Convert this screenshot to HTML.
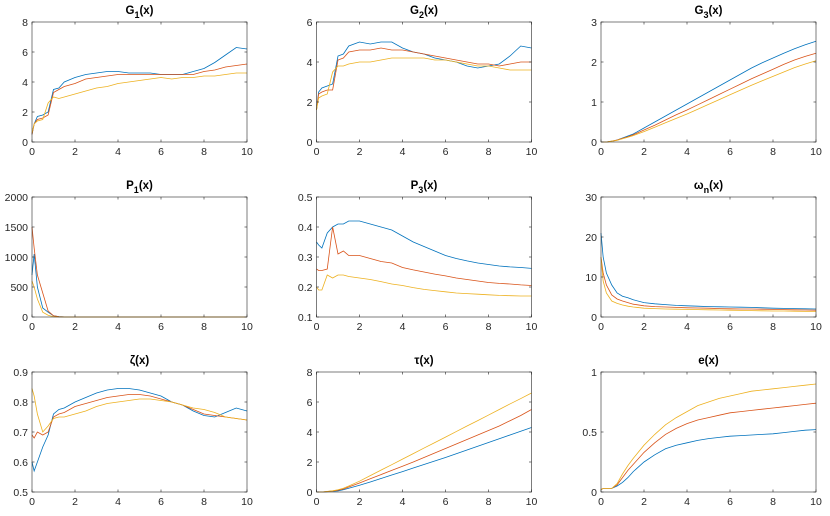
<!DOCTYPE html>
<html><head><meta charset="utf-8"><style>
html,body{margin:0;padding:0;background:#fff;}
svg{display:block;font-family:"Liberation Sans",sans-serif;}
</style></head><body>
<svg id="fig" width="830" height="516"></svg>
<script>
const xs=[0,0.1,0.25,0.5,0.75,1,1.25,1.5,2,2.5,3,3.5,4,4.5,5,5.5,6,6.5,7,7.5,8,8.5,9,9.5,10];
const g1Blue=[0.5,1.2,1.7,1.8,2.0,3.5,3.6,4.0,4.3,4.5,4.6,4.7,4.7,4.6,4.6,4.6,4.5,4.5,4.5,4.7,4.9,5.3,5.8,6.3,6.2];
const g1Red=[0.5,1.2,1.5,1.6,1.8,3.3,3.5,3.7,3.9,4.2,4.3,4.4,4.5,4.5,4.5,4.5,4.5,4.5,4.5,4.5,4.7,4.8,5.0,5.1,5.2];
const g1Yellow=[0.6,1.2,1.4,1.5,2.6,3.0,2.9,3.0,3.2,3.4,3.6,3.7,3.9,4.0,4.1,4.2,4.3,4.2,4.3,4.3,4.4,4.4,4.5,4.6,4.6];
const g2Blue=[1.6,2.5,2.7,2.8,2.9,4.3,4.4,4.8,5.0,4.9,5.0,5.0,4.7,4.5,4.4,4.2,4.1,4.0,3.8,3.7,3.8,3.9,4.3,4.8,4.7];
const g2Red=[1.6,2.4,2.5,2.6,2.6,4.1,4.2,4.5,4.6,4.6,4.7,4.6,4.6,4.5,4.4,4.3,4.2,4.1,4.0,3.9,3.9,3.8,3.9,4.0,4.0];
const g2Yellow=[1.6,2.2,2.3,2.4,3.5,3.8,3.8,3.9,4.0,4.0,4.1,4.2,4.2,4.2,4.2,4.1,4.1,4.0,3.9,3.8,3.8,3.7,3.6,3.6,3.6];
const g3Blue=[0,0,0,0.02,0.05,0.1,0.15,0.2,0.35,0.5,0.65,0.8,0.95,1.1,1.25,1.4,1.55,1.7,1.85,1.98,2.1,2.22,2.33,2.43,2.52];
const g3Red=[0,0,0,0.02,0.05,0.09,0.13,0.18,0.3,0.42,0.55,0.68,0.8,0.93,1.06,1.19,1.32,1.45,1.58,1.7,1.82,1.94,2.05,2.14,2.22];
const g3Yellow=[0,0,0,0.02,0.04,0.08,0.12,0.16,0.26,0.37,0.48,0.59,0.7,0.82,0.94,1.06,1.18,1.3,1.42,1.53,1.64,1.75,1.86,1.95,2.03];
const p1Blue=[700,1050,500,150,80,20,5,2,0,0,0,0,0,0,0,0,0,0,0,0,0,0,0,0,0];
const p1Red=[1500,1150,700,400,100,20,5,2,0,0,0,0,0,0,0,0,0,0,0,0,0,0,0,0,0];
const p1Yellow=[600,500,300,80,30,5,2,0,0,0,0,0,0,0,0,0,0,0,0,0,0,0,0,0,0];
const p3Blue=[0.35,0.34,0.33,0.38,0.40,0.41,0.41,0.42,0.42,0.41,0.40,0.39,0.37,0.35,0.335,0.32,0.305,0.295,0.287,0.28,0.275,0.27,0.267,0.265,0.262];
const p3Red=[0.26,0.255,0.255,0.26,0.40,0.31,0.32,0.305,0.305,0.295,0.285,0.28,0.265,0.257,0.25,0.243,0.237,0.23,0.225,0.22,0.215,0.212,0.21,0.207,0.205];
const p3Yellow=[0.2,0.19,0.19,0.24,0.23,0.24,0.24,0.235,0.23,0.225,0.218,0.21,0.205,0.198,0.192,0.188,0.184,0.18,0.178,0.176,0.174,0.172,0.171,0.17,0.17];
const wnBlue=[21,15,11,8,6,5.2,4.8,4.3,3.6,3.3,3.1,2.9,2.8,2.7,2.6,2.55,2.5,2.45,2.4,2.3,2.2,2.15,2.1,2.05,2.0];
const wnRed=[15,11,8,5.5,4.5,4,3.6,3.2,2.8,2.6,2.5,2.4,2.3,2.25,2.2,2.1,2.05,2,2,1.95,1.9,1.85,1.8,1.75,1.7];
const wnYellow=[15,9,6,4,3.4,3,2.7,2.5,2.2,2.1,2,1.95,1.9,1.85,1.8,1.75,1.7,1.65,1.6,1.55,1.5,1.5,1.45,1.4,1.4];
const zetaBlue=[0.6,0.57,0.6,0.65,0.69,0.76,0.775,0.78,0.80,0.815,0.83,0.84,0.845,0.845,0.84,0.83,0.82,0.80,0.79,0.77,0.755,0.75,0.765,0.78,0.77];
const zetaRed=[0.69,0.68,0.70,0.69,0.70,0.75,0.76,0.765,0.785,0.795,0.805,0.815,0.82,0.825,0.825,0.82,0.81,0.80,0.79,0.775,0.76,0.755,0.75,0.745,0.74];
const zetaYellow=[0.845,0.82,0.76,0.70,0.72,0.745,0.75,0.75,0.76,0.77,0.785,0.795,0.80,0.805,0.81,0.81,0.805,0.80,0.79,0.78,0.775,0.765,0.75,0.745,0.74];
const tauBlue=[0,0,0,0.02,0.05,0.08,0.15,0.25,0.45,0.67,0.9,1.13,1.36,1.6,1.83,2.07,2.3,2.55,2.8,3.05,3.3,3.55,3.8,4.05,4.3];
const tauRed=[0,0,0,0.03,0.07,0.12,0.2,0.33,0.6,0.88,1.16,1.44,1.72,2.0,2.3,2.6,2.9,3.2,3.5,3.8,4.1,4.4,4.75,5.1,5.5];
const tauYellow=[0,0,0,0.04,0.08,0.15,0.25,0.4,0.72,1.09,1.46,1.82,2.19,2.56,2.93,3.29,3.66,4.03,4.40,4.76,5.13,5.50,5.87,6.23,6.6];
const eBlue=[0.02,0.03,0.03,0.03,0.05,0.08,0.12,0.17,0.25,0.31,0.36,0.39,0.41,0.43,0.445,0.455,0.465,0.47,0.475,0.48,0.485,0.495,0.505,0.515,0.52];
const eRed=[0.02,0.03,0.03,0.03,0.06,0.12,0.18,0.23,0.33,0.41,0.48,0.53,0.57,0.60,0.62,0.64,0.66,0.67,0.68,0.69,0.70,0.71,0.72,0.73,0.74];
const eYellow=[0.02,0.03,0.03,0.03,0.07,0.15,0.22,0.28,0.39,0.48,0.56,0.62,0.67,0.72,0.75,0.78,0.80,0.82,0.84,0.85,0.86,0.87,0.88,0.89,0.90];
const xTicks=[0,2,4,6,8,10];
const panels=[
 {name:"g1",t:"G",sub:"1",yt:[0,2,4,6,8],s:[g1Blue,g1Red,g1Yellow]},
 {name:"g2",t:"G",sub:"2",yt:[0,2,4,6],s:[g2Blue,g2Red,g2Yellow]},
 {name:"g3",t:"G",sub:"3",yt:[0,1,2,3],s:[g3Blue,g3Red,g3Yellow]},
 {name:"p1",t:"P",sub:"1",yt:[0,500,1000,1500,2000],s:[p1Blue,p1Red,p1Yellow]},
 {name:"p3",t:"P",sub:"3",yt:[0.1,0.2,0.3,0.4,0.5],s:[p3Blue,p3Red,p3Yellow]},
 {name:"omega-n",t:"ω",sub:"n",yt:[0,10,20,30],s:[wnBlue,wnRed,wnYellow]},
 {name:"zeta",t:"ζ",sub:"",yt:[0.5,0.6,0.7,0.8,0.9],s:[zetaBlue,zetaRed,zetaYellow]},
 {name:"tau",t:"τ",sub:"",yt:[0,2,4,6,8],s:[tauBlue,tauRed,tauYellow]},
 {name:"e",t:"e",sub:"",yt:[0,0.5,1],s:[eBlue,eRed,eYellow]}
];
const colors=["#0072BD","#D95319","#EDB120"];
const NS="http://www.w3.org/2000/svg";
const svg=document.getElementById("fig");
function mk(tag,attrs,parent){const e=document.createElementNS(NS,tag);for(const k in attrs)e.setAttribute(k,attrs[k]);parent.appendChild(e);return e;}
const colX=[32,316.5,601],rowY=[22,197,372],W=215,H=120;
panels.forEach((p,i)=>{
 const x0=colX[i%3],y0=rowY[Math.floor(i/3)];
 const ymin=p.yt[0],ymax=p.yt[p.yt.length-1];
 const sx=v=>x0+v/10*W, sy=v=>y0+H-(v-ymin)/(ymax-ymin)*H;
 const g=mk("g",{},svg);
 
 
 mk("rect",{x:x0,y:y0,width:W,height:H,fill:"#fff"},g);
 p.s.forEach((arr,k)=>{
  const d=arr.map((v,j)=>(j?"L":"M")+sx(xs[j]).toFixed(2)+","+sy(v).toFixed(2)).join("");
  const path=mk("path",{d:d,fill:"none",stroke:colors[k],"stroke-width":0.8},g);
  
  
 });
 mk("rect",{x:x0,y:y0,width:W,height:H,fill:"none",stroke:"#262626","stroke-width":0.6},g);
 xTicks.forEach(t=>{
  const X=sx(t);
  mk("line",{x1:X,x2:X,y1:y0+H,y2:y0+H-2.5,stroke:"#262626","stroke-width":0.6},g);
  mk("line",{x1:X,x2:X,y1:y0,y2:y0+2.5,stroke:"#262626","stroke-width":0.6},g);
  const tx=mk("text",{x:X,y:y0+H+13,"text-anchor":"middle","font-size":"10.5",fill:"#262626"},g);
  tx.textContent=t;
  
  
 });
 p.yt.forEach(t=>{
  const Y=sy(t);
  mk("line",{x1:x0,x2:x0+2.5,y1:Y,y2:Y,stroke:"#262626","stroke-width":0.6},g);
  mk("line",{x1:x0+W,x2:x0+W-2.5,y1:Y,y2:Y,stroke:"#262626","stroke-width":0.6},g);
  const ty=mk("text",{x:x0-4,y:Y+3.8,"text-anchor":"end","font-size":"10.5",fill:"#262626"},g);
  ty.textContent=t;
  
  
 });
 const tt=mk("text",{x:x0+W/2,y:y0-8,"text-anchor":"middle","font-size":"11.5","font-weight":"bold",fill:"#000"},g);
 
 
 const a=mk("tspan",{},tt);a.textContent=p.t;
 if(p.sub){const b=mk("tspan",{dy:"4","font-size":"9"},tt);b.textContent=p.sub;const c=mk("tspan",{dy:"-4"},tt);c.textContent="(x)";}
 else{const c=mk("tspan",{},tt);c.textContent="(x)";}
});
</script>
</body></html>
